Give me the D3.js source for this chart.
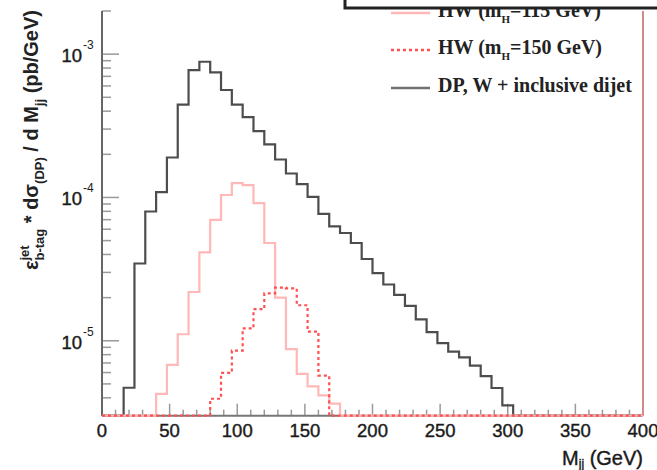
<!DOCTYPE html>
<html><head><meta charset="utf-8">
<script src="https://cdn.jsdelivr.net/npm/d3@7"></script>
<style>html,body{margin:0;padding:0;background:#fff;} svg{display:block;}</style>
</head><body>
<svg id="c" width="657" height="470"></svg>
<script>
// ---- data (8 GeV bins, lower edges) ----
const binLow = [0,8,16,24,32,40,48,56,64,72,80,88,96,104,112,120,128,136,144,152,
  160,168,176,184,192,200,208,216,224,232,240,248,256,264,272,280,288,296,304,312,
  320,328,336,344,352,360,368,376,384,392];
const binWidth = 8;
// DP, W + inclusive dijet
const dpDijet = [0,0,4.7e-6,3.46e-5,7.98e-5,1.09e-4,1.90e-4,4.45e-4,7.74e-4,8.85e-4,
  7.45e-4,5.62e-4,4.45e-4,3.63e-4,2.90e-4,2.35e-4,1.84e-4,1.47e-4,1.24e-4,1.01e-4,
  7.69e-5,6.28e-5,5.65e-5,4.81e-5,3.72e-5,2.96e-5,2.47e-5,2.09e-5,1.75e-5,1.41e-5,
  1.15e-5,9.63e-6,8.41e-6,7.66e-6,6.71e-6,5.66e-6,4.68e-6,3.54e-6,0,0,
  0,0,0,0,0,0,0,0,0,0];
// HW (mH = 115 GeV)
const hw115 = [0,0,0,0,0,4.26e-6,6.79e-6,1.11e-5,2.19e-5,4.14e-5,
  6.98e-5,1.04e-4,1.26e-4,1.22e-4,9.12e-5,4.81e-5,2.0e-5,8.75e-6,5.88e-6,4.81e-6,
  4.16e-6,3.64e-6,0,0,0,0,0,0,0,0,
  0,0,0,0,0,0,0,0,0,0,
  0,0,0,0,0,0,0,0,0,0];
// HW (mH = 150 GeV)
const hw150 = [0,0,0,0,0,0,0,0,0,0,
  3.94e-6,5.97e-6,8.53e-6,1.22e-5,1.66e-5,2.14e-5,2.35e-5,2.32e-5,1.77e-5,1.16e-5,
  5.71e-6,0,0,0,0,0,0,0,0,0,
  0,0,0,0,0,0,0,0,0,0,
  0,0,0,0,0,0,0,0,0,0];
const xTickLabels = [0,50,100,150,200,250,300,350,400];
const yTickExps = [-3,-4,-5];
const legendMain = ["HW (m", "HW (m", "DP, W + inclusive dijet"];
const legendSub = ["H", "H", ""];
const legendTail = ["=115 GeV)", "=150 GeV)", ""];

// ---- layout ----
const svg = d3.select("#c");
const X0 = 102, X1 = 643, YB = 415.7, YT = 11;
const x = d3.scaleLinear().domain([0, 400]).range([X0, X1]);
const y = d3.scaleLog().domain([3e-6, 2e-3]).range([YB, YT]);
const [ymin] = y.domain();
const SANS = "'Liberation Sans', Arial, sans-serif";

// axes: ticks
const gAx = svg.append("g");
const xMinor = d3.range(0, 401, 10);
gAx.selectAll(".xt").data(xMinor).join("line")
  .attr("x1", d => x(d)).attr("x2", d => x(d))
  .attr("y1", YB).attr("y2", d => d % 50 === 0 ? YB - 12 : YB - 6)
  .attr("stroke", "#9a9a9a").attr("stroke-width", 1.5);
const yMinor = [];
for (let e = -6; e <= -3; e++) for (let m = 1; m <= 9; m++) {
  const v = m * Math.pow(10, e);
  if (v >= ymin * 0.999 && v <= 2e-3 * 1.001) yMinor.push({v, major: m === 1});
}
gAx.selectAll(".yt").data(yMinor).join("line")
  .attr("x1", X0).attr("x2", d => d.major ? X0 + 17 : X0 + 9)
  .attr("y1", d => y(d.v)).attr("y2", d => y(d.v))
  .attr("stroke", "#9a9a9a").attr("stroke-width", 1.5);
gAx.append("line").attr("x1", X0).attr("x2", X0).attr("y1", YT).attr("y2", YB)
  .attr("stroke", "#666").attr("stroke-width", 2);
gAx.append("line").attr("x1", X0).attr("x2", X1).attr("y1", YB).attr("y2", YB)
  .attr("stroke", "#777").attr("stroke-width", 2);
gAx.append("line").attr("x1", X1).attr("x2", X1).attr("y1", YT).attr("y2", YB)
  .attr("stroke", "#d08a8a").attr("stroke-width", 2);

// tick labels
svg.selectAll(".xl").data(xTickLabels).join("text")
  .attr("x", d => x(d)).attr("y", 437)
  .attr("text-anchor", "middle")
  .attr("font-family", SANS).attr("font-size", 18.5).attr("fill", "#1a1a1a")
  .attr("stroke", "#1a1a1a").attr("stroke-width", 0.4).text(d => d);
const yl = svg.selectAll(".yl").data(yTickExps).join("g");
yl.append("text").attr("x", 82).attr("y", d => y(Math.pow(10, d)) + 8)
  .attr("text-anchor", "end")
  .attr("font-family", SANS).attr("font-size", 18.5).attr("fill", "#1a1a1a")
  .attr("stroke", "#1a1a1a").attr("stroke-width", 0.4).text("10");
yl.append("text").attr("x", 83).attr("y", d => y(Math.pow(10, d)) - 5)
  .attr("font-family", SANS).attr("font-size", 12).attr("fill", "#1a1a1a")
  .text(d => "-" + Math.abs(d));

// histograms
function stepPts(vals) {
  const pts = [[x(0), YB]];
  vals.forEach((v, i) => {
    const yy = v > 0 ? y(Math.max(v, ymin)) : YB;
    pts.push([x(binLow[i]), yy], [x(binLow[i] + binWidth), yy]);
  });
  pts.push([x(400), YB]);
  return pts;
}
const line = d3.line();
svg.append("path").attr("d", line(stepPts(dpDijet)))
  .attr("fill", "none").attr("stroke", "#4d4d4d").attr("stroke-width", 2.2);
svg.append("path").attr("d", line(stepPts(hw115)))
  .attr("fill", "none").attr("stroke", "#ffb8b8").attr("stroke-width", 2.2);
svg.append("path").attr("d", line(stepPts(hw150)))
  .attr("fill", "none").attr("stroke", "#ff5050").attr("stroke-width", 2.2)
  .attr("stroke-dasharray", "3,3");

// legend
const legStyles = [
  {stroke: "#ffb8b8", dash: null},
  {stroke: "#ff5050", dash: "3,3"},
  {stroke: "#707070", dash: null}
];
const legY = [17, 54, 92];
legendMain.forEach((t, i) => {
  svg.append("line").attr("x1", 391).attr("x2", 430)
    .attr("y1", legY[i] - 4).attr("y2", legY[i] - 4)
    .attr("stroke", legStyles[i].stroke).attr("stroke-width", 2.5)
    .attr("stroke-dasharray", legStyles[i].dash);
  const tx = svg.append("text").attr("x", 438).attr("y", legY[i])
    .attr("font-family", "'Liberation Serif', 'Times New Roman', serif")
    .attr("font-weight", "bold").attr("font-size", 20).attr("fill", "#222");
  tx.append("tspan").text(t);
  if (legendSub[i]) {
    tx.append("tspan").attr("font-size", 11).attr("dy", 6).text(legendSub[i]);
    tx.append("tspan").attr("dy", -6).text(legendTail[i]);
  }
});
// clipped box on top
svg.append("rect").attr("x", 345).attr("y", -30).attr("width", 340).attr("height", 38)
  .attr("fill", "#fff").attr("stroke", "#222").attr("stroke-width", 3);

// x title
const xt = svg.append("text").attr("x", 643).attr("y", 465).attr("text-anchor", "end")
  .attr("font-family", SANS).attr("font-size", 20).attr("fill", "#1a1a1a")
  .attr("stroke", "#1a1a1a").attr("stroke-width", 0.4);
xt.append("tspan").text("M");
xt.append("tspan").attr("font-size", 12).attr("dy", 3).text("jj");
xt.append("tspan").attr("dy", -3).text(" (GeV)");

// y title (rotated)
const gy = svg.append("g");
const yt = gy.append("text")
  .attr("font-family", SANS).attr("font-weight", "bold")
  .attr("font-size", 20).attr("fill", "#222").attr("x", 0).attr("y", 0);
yt.append("tspan").text("ε");
const sup = yt.append("tspan").attr("font-size", 13).attr("dy", -9).text("jet");
const supLen = sup.node().getComputedTextLength();
yt.append("tspan").attr("font-size", 13).attr("dy", 15).attr("dx", -supLen).text("b-tag");
yt.append("tspan").attr("dy", -6).text(" * dσ");
yt.append("tspan").attr("font-size", 13).attr("dy", 6).text("(DP)");
yt.append("tspan").attr("dy", -6).text(" / d M");
yt.append("tspan").attr("font-size", 13).attr("dy", 6).text("jj");
yt.append("tspan").attr("dy", -6).text(" (pb/GeV)");
const bb = yt.node().getBBox();
const w = bb.x + bb.width;
gy.attr("transform", `translate(38, ${10 + w}) rotate(-90)`);
</script>
</body></html>
